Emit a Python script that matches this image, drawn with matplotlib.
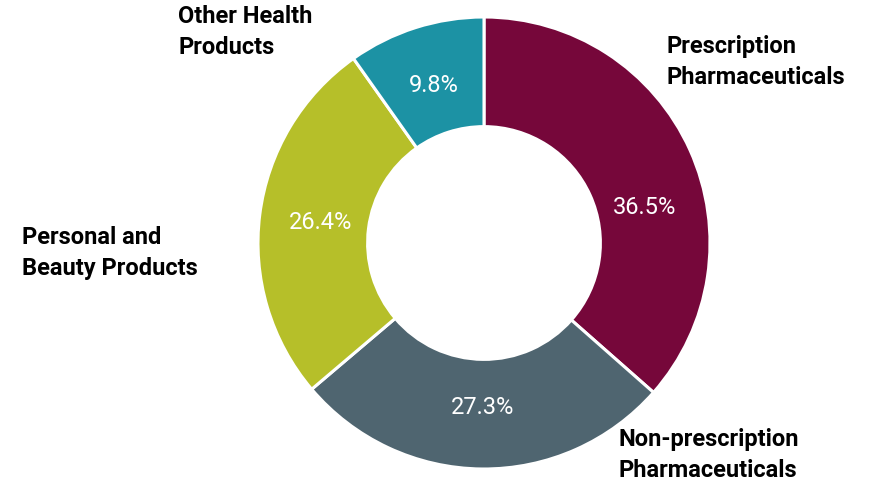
import matplotlib

matplotlib.use("Agg")
import matplotlib.pyplot as plt
from matplotlib import font_manager

# Revenue mix by product category
categories = [
    "Prescription\nPharmaceuticals",
    "Non-prescription\nPharmaceuticals",
    "Personal and\nBeauty Products",
    "Other Health\nProducts",
]
shares = [36.5, 27.3, 26.4, 9.8]
colors = ["#76073A", "#4F6570", "#B6BF29", "#1C92A4"]

# pick a narrow sans if one is available
names = {f.name for f in font_manager.fontManager.ttflist}
family = "Liberation Sans Narrow" if "Liberation Sans Narrow" in names else "Roboto"
plt.rcParams["font.family"] = [family, "DejaVu Sans"]

W, H = 869, 486
fig = plt.figure(figsize=(W / 100, H / 100), dpi=100)
ax = fig.add_axes([0, 0, 1, 1])

cx, cy, R = 484, 243, 226
wedges, _, pcts = ax.pie(
    shares,
    colors=colors,
    startangle=90,
    counterclock=False,
    center=(cx, cy),
    radius=R,
    frame=True,
    autopct=lambda p: f"{p:.1f}%",
    pctdistance=0.73,
    wedgeprops=dict(width=R * 0.485, edgecolor="white", linewidth=2.2),
    textprops=dict(color="white", fontsize=17),
)
# first label sits lower than its wedge's mid-angle
pcts[0].set_position((cx + 161, cy + 36))

# category labels outside the ring (top-left anchored, in pixel space)
label_pos = [(667, 35), (618, 428), (22, 226), (178, 5)]
for text, (x, y) in zip(categories, label_pos):
    ax.text(x, H - y, text, ha="left", va="top", fontsize=17,
            fontweight="bold", color="black", linespacing=1.45)

ax.set_xlim(0, W)
ax.set_ylim(0, H)
ax.axis("off")

plt.savefig("out.png", dpi=100)
plt.close()
